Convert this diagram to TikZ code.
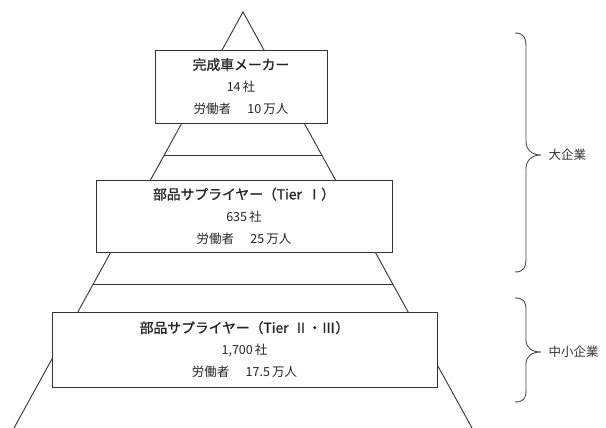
\documentclass[tikz,border=0pt]{standalone}
\usepackage{fontspec}
\newfontfamily\jp{Noto Sans CJK JP}
\newfontfamily\jpb[FakeBold=1.2]{Noto Sans CJK JP}
\usetikzlibrary{calc}
\begin{document}
\begin{tikzpicture}[x=1pt,y=-1pt,
  ln/.style={draw=black!80,line width=0.9pt},
  tierbox/.style={ln,fill=white,rectangle,inner sep=0pt,align=center,
     font=\jp\fontsize{12.5}{22}\selectfont,text=black!85},
  brc/.style={draw=black!70,line width=0.9pt},
  lbl/.style={font=\jp\fontsize{12.5}{14}\selectfont,text=black!80,anchor=west}]
\useasboundingbox[fill=white] (0,0) rectangle (606,428);
\coordinate (apex) at (243,12);
\coordinate (bl) at (14,428);
\coordinate (br) at (472,428);
\draw[ln] (bl) -- (apex) -- (br);
\draw[ln] ($(apex)!0.3438!(bl)$) -- ($(apex)!0.3438!(br)$);
\draw[ln] ($(apex)!0.6538!(bl)$) -- ($(apex)!0.6538!(br)$);
\node[tierbox,minimum width=172pt,minimum height=73pt] (oem) at (241,86.5)
  {{\jpb\fontsize{13.8}{22}\selectfont 完成車メーカー}\\14\,社\\労働者\hspace{1.3em}10\,万人};
\node[tierbox,minimum width=296pt,minimum height=72pt] (t1) at (244,216)
  {{\jpb\fontsize{13.8}{22}\selectfont 部品サプライヤー（Tier\hspace{0.4em}Ⅰ）}\\635\,社\\労働者\hspace{1.3em}25\,万人};
\node[tierbox,minimum width=385pt,minimum height=75pt] (t23) at (244.5,349.5)
  {{\jpb\fontsize{13.8}{22}\selectfont 部品サプライヤー（Tier\hspace{0.4em}Ⅱ・Ⅲ）}\\1,700\,社\\労働者\hspace{1.3em}17.5\,万人};
% braces
\draw[brc] (515,33) .. controls (524,33) and (526,38) .. (526,47) -- (526,141)
  .. controls (526,150) and (532,155) .. (541,155)
  .. controls (532,155) and (526,160) .. (526,169) -- (526,258)
  .. controls (526,267) and (524,272) .. (515,272);
\draw[brc] (515,298) .. controls (524,298) and (526,302) .. (526,310) -- (526,340)
  .. controls (526,348) and (532,352) .. (541,352)
  .. controls (532,352) and (526,356) .. (526,364) -- (526,390)
  .. controls (526,398) and (524,402) .. (515,402);
\node[lbl] (large) at (545,155) {大企業};
\node[lbl] (sme) at (545,352) {中小企業};
\end{tikzpicture}
\end{document}
